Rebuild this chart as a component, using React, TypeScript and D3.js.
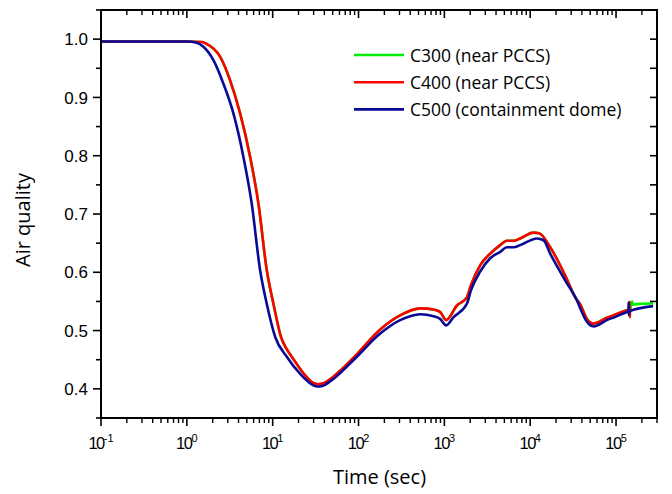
import React from "react";
import * as d3 from "d3";

// ---- Data ----
const blueT = [0.1, 1.0, 1.3, 1.56, 2.04, 2.66, 3.48, 4.56, 5.7, 7.13, 8.53, 10.7, 14.6, 20.8, 29.8, 32.7, 38, 47, 87, 179, 305, 400, 522, 747, 893, 1050, 1280, 1830, 2040, 2610, 3420, 4470, 5350, 6400, 7640, 11970, 14300, 17100, 26800, 35000, 38300, 45800, 54700, 78300, 100000, 134000, 139500, 140000, 140500, 141500, 270000];
const blueV = [0.996, 0.996, 0.994, 0.987, 0.964, 0.924, 0.873, 0.798, 0.718, 0.604, 0.546, 0.489, 0.455, 0.426, 0.406, 0.404, 0.405, 0.413, 0.449, 0.495, 0.518, 0.5246, 0.528, 0.5246, 0.52, 0.509, 0.523, 0.546, 0.569, 0.601, 0.624, 0.635, 0.643, 0.643, 0.6466, 0.658, 0.655, 0.632, 0.581, 0.552, 0.538, 0.515, 0.507, 0.518, 0.524, 0.532, 0.533, 0.548, 0.527, 0.533, 0.542];

const redT = [0.1, 1.0, 1.5, 1.7, 2.44, 3.18, 4.17, 5.46, 6.82, 8.53, 10.2, 12.5, 14.6, 17.8, 22.5, 29.8, 33.9, 40, 50, 87, 179, 305, 522, 747, 890, 1050, 1400, 1830, 2040, 2610, 3420, 4470, 5350, 6400, 7640, 10900, 12700, 17100, 26800, 33400, 38300, 45800, 54700, 78300, 100000, 134000, 141000, 143000, 143800, 144600, 145500];
const redV = [0.996, 0.996, 0.995, 0.992, 0.970, 0.930, 0.873, 0.798, 0.718, 0.604, 0.546, 0.489, 0.468, 0.449, 0.428, 0.41, 0.408, 0.41, 0.42, 0.453, 0.502, 0.526, 0.538, 0.536, 0.532, 0.518, 0.543, 0.557, 0.578, 0.612, 0.632, 0.6466, 0.654, 0.654, 0.658, 0.668, 0.667, 0.643, 0.588, 0.557, 0.545, 0.52, 0.512, 0.522, 0.528, 0.535, 0.536, 0.536, 0.549, 0.523, 0.535];

// Green (C300) follows C400 and then has its own tail after the spike
const greenTailT = [148000, 150000, 152000, 154000, 157000, 165000, 200000, 270000];
const greenTailV = [0.538, 0.549, 0.544, 0.550, 0.544, 0.545, 0.546, 0.547];

const legendLabels = ["C300 (near PCCS)", "C400 (near PCCS)", "C500 (containment dome)"];
const legendColors = ["#00ee00", "#ff0000", "#0a0a96"];

const yMajor = [0.4, 0.5, 0.6, 0.7, 0.8, 0.9, 1.0];
const yMinor = [0.35, 0.45, 0.55, 0.65, 0.75, 0.85, 0.95, 1.05];
const xDecadeExp = [-1, 0, 1, 2, 3, 4, 5];

const W = 672, H = 494;
const L = 101, R = 657, T = 10, B = 418;

export default function App() {
  const x = d3.scaleLog().domain([0.1, 3e5]).range([L, R]);
  const y = d3.scaleLinear().domain([0.35, 1.05]).range([B, T]);

  const line = d3
    .line<[number, number]>()
    .x((d) => x(d[0]))
    .y((d) => y(d[1]))
    .curve(d3.curveMonotoneX);

  const blue = blueT.map((t, i) => [t, blueV[i]] as [number, number]);
  const red = redT.map((t, i) => [t, redV[i]] as [number, number]);
  const green = red.concat(greenTailT.map((t, i) => [t, greenTailV[i]] as [number, number]));

  // minor log ticks
  const xMinor: number[] = [];
  for (const e of xDecadeExp) {
    for (let k = 2; k <= 9; k++) {
      const v = k * Math.pow(10, e);
      if (v <= 3e5) xMinor.push(v);
    }
  }

  const tickFont = "'Liberation Sans', Arial, sans-serif";
  const titleFont = "'Open Sans', sans-serif";

  return (
    <svg
      width={W}
      height={H}
      style={{ position: "absolute", left: 0, top: 0, background: "#fff" }}
    >
      <rect x={0} y={0} width={W} height={H} fill="#fff" />
      <defs>
        <clipPath id="clip">
          <rect x={L} y={T} width={R - L} height={B - T} />
        </clipPath>
      </defs>
      <g clipPath="url(#clip)">
        <path d={line(green) || ""} fill="none" stroke={legendColors[0]} strokeWidth={2.6} strokeLinejoin="round" />
        <path d={line(red) || ""} fill="none" stroke={legendColors[1]} strokeWidth={2.6} strokeLinejoin="round" />
        <path d={line(blue) || ""} fill="none" stroke={legendColors[2]} strokeWidth={2.6} strokeLinejoin="round" />
      </g>

      {/* frame */}
      <rect x={L} y={T} width={R - L} height={B - T} fill="none" stroke="#000" strokeWidth={2} />

      {/* left axis ticks (outward) */}
      {yMajor.map((v) => (
        <line key={"ym" + v} x1={L - 8} x2={L} y1={y(v)} y2={y(v)} stroke="#000" strokeWidth={1.6} />
      ))}
      {yMinor.map((v) => (
        <line key={"yn" + v} x1={L - 5} x2={L} y1={y(v)} y2={y(v)} stroke="#000" strokeWidth={1.6} />
      ))}
      {/* right axis ticks (inward) */}
      {yMajor.map((v) => (
        <line key={"rm" + v} x1={R - 7} x2={R} y1={y(v)} y2={y(v)} stroke="#000" strokeWidth={1.6} />
      ))}
      {yMinor.map((v) => (
        <line key={"rn" + v} x1={R - 7} x2={R} y1={y(v)} y2={y(v)} stroke="#000" strokeWidth={1.6} />
      ))}
      {/* y labels */}
      {yMajor.map((v) => (
        <text
          key={"yl" + v}
          x={L - 13}
          y={y(v)}
          dy="0.36em"
          textAnchor="end"
          fontFamily={tickFont}
          fontSize={17}
          fill="#000"
        >
          {v.toFixed(1)}
        </text>
      ))}

      {/* bottom ticks (outward) & top ticks (inward) */}
      {xDecadeExp.map((e) => {
        const px = x(Math.pow(10, e));
        return (
          <g key={"xm" + e}>
            <line x1={px} x2={px} y1={B} y2={B + 8} stroke="#000" strokeWidth={1.6} />
            <line x1={px} x2={px} y1={T} y2={T + 8} stroke="#000" strokeWidth={1.6} />
          </g>
        );
      })}
      {xMinor.map((v, i) => {
        const px = x(v);
        return (
          <g key={"xn" + i}>
            <line x1={px} x2={px} y1={B} y2={B + 5} stroke="#000" strokeWidth={1.4} />
            <line x1={px} x2={px} y1={T} y2={T + 5} stroke="#000" strokeWidth={1.4} />
          </g>
        );
      })}
      {/* x labels */}
      {xDecadeExp.map((e) => {
        const px = x(Math.pow(10, e));
        return (
          <text
            key={"xl" + e}
            x={px}
            y={449}
            textAnchor="middle"
            fontFamily={tickFont}
            fontSize={16.5}
            fill="#000"
          >
            <tspan letterSpacing={-1.5}>10</tspan>
            <tspan fontSize={11} dy={-7}>
              {String(e)}
            </tspan>
          </text>
        );
      })}

      {/* axis titles */}
      <text x={(L + R) / 2 + 0.5} y={484} textAnchor="middle" fontFamily={titleFont} fontSize={20} fill="#000">
        Time (sec)
      </text>
      <text
        transform={`translate(30,220) rotate(-90)`}
        textAnchor="middle"
        fontFamily={titleFont}
        fontSize={20}
        fill="#000"
      >
        Air quality
      </text>

      {/* legend */}
      {legendLabels.map((lab, i) => {
        const ly = 55 + i * 27.2;
        return (
          <g key={"lg" + i}>
            <line x1={354} x2={404} y1={ly} y2={ly} stroke={legendColors[i]} strokeWidth={2.6} />
            <text x={410} y={ly + 6.5} fontFamily={titleFont} fontSize={17.5} fill="#000">
              {lab}
            </text>
          </g>
        );
      })}
    </svg>
  );
}
